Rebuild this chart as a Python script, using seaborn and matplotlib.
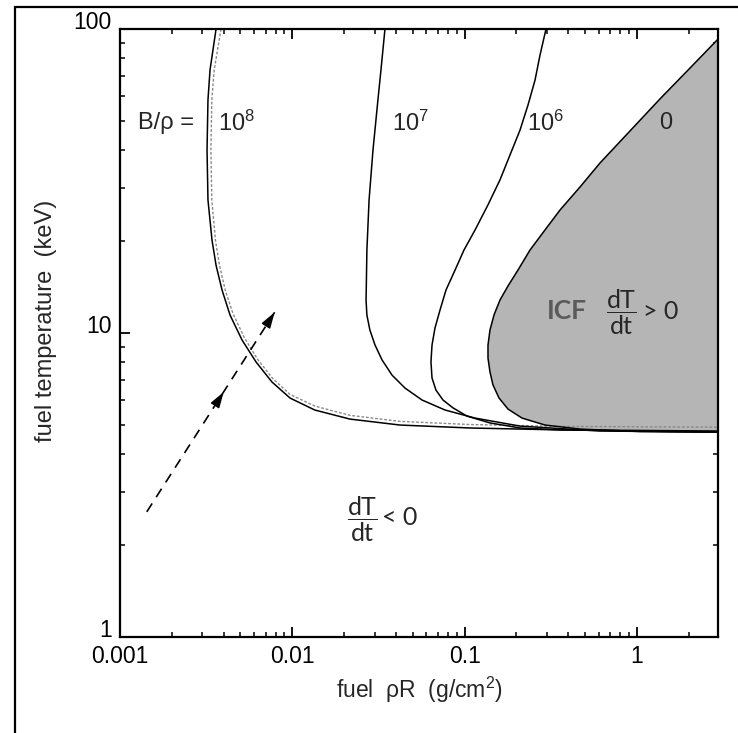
import numpy as np
import pandas as pd
import matplotlib
matplotlib.use("Agg")
import matplotlib.pyplot as plt
from matplotlib.patches import Rectangle
from matplotlib.ticker import LogLocator, NullFormatter
import seaborn as sns

# ---------------- data ----------------
# B/rho = 1e8 (solid)
b8_rhoR = [0.00361, 0.00333, 0.00324, 0.00320, 0.00324, 0.00342, 0.00361, 0.00391, 0.00435,
           0.00511, 0.00616, 0.00762, 0.00970, 0.0135, 0.0216, 0.0422, 0.1075, 0.358, 2.96]
b8_T = [100, 73.3, 58.4, 40.0, 27.4, 20.2, 16.7, 13.85, 11.46, 9.48, 8.03, 6.90, 6.11, 5.58,
        5.21, 4.98, 4.87, 4.80, 4.76]
# B/rho = 1e8 (dotted companion)
b8d_rhoR = [0.00386, 0.00352, 0.00341, 0.00337, 0.00341, 0.00358, 0.00378, 0.00408, 0.00452,
            0.00527, 0.00628, 0.00770, 0.00970, 0.0135, 0.0216, 0.0422, 0.1075, 0.358, 2.96]
b8d_T = [100, 73.3, 58.4, 40.0, 27.4, 20.2, 16.7, 13.85, 11.6, 9.65, 8.2, 7.08, 6.28, 5.75,
         5.36, 5.12, 5.0, 4.93, 4.90]
# B/rho = 1e7
b7_rhoR = [0.0345, 0.0327, 0.0314, 0.0294, 0.0279, 0.0271, 0.0268, 0.0271, 0.0282, 0.0302,
           0.0332, 0.0379, 0.0451, 0.0566, 0.0770, 0.1149, 0.2097, 0.6107, 2.96]
b7_T = [100, 73.3, 58.4, 40.0, 27.4, 18.75, 12.8, 11.46, 10.23, 9.13, 8.15, 7.27, 6.59, 6.02,
        5.58, 5.25, 4.94, 4.76, 4.72]
# B/rho = 1e6
b6_rhoR = [0.2968, 0.2740, 0.2563, 0.2333, 0.2097, 0.1834, 0.1605, 0.1367, 0.1149, 0.0992,
           0.0880, 0.0780, 0.0720, 0.0673, 0.0647, 0.0638, 0.0647, 0.0682, 0.0749, 0.0857,
           0.1032, 0.1404, 0.2097, 0.358, 2.96]
b6_T = [100, 82.1, 67.9, 56.2, 46.5, 38.5, 31.9, 26.4, 21.8, 18.75, 16.1, 13.85, 11.9, 10.38,
        9.13, 8.03, 7.11, 6.49, 6.02, 5.67, 5.33, 5.06, 4.87, 4.80, 4.72]
# B/rho = 0 (ICF ignition boundary)
b0_rhoR = [2.96, 1.042, 0.4676, 0.2929, 0.2154, 0.1786, 0.1584, 0.1461, 0.1404, 0.1367, 0.1367,
           0.1404, 0.1481, 0.1605, 0.1786, 0.2041, 0.2397, 0.2929, 0.358, 0.4676, 0.6107,
           0.9120, 1.3618, 2.0335, 2.96]
b0_T = [4.72, 4.74, 4.83, 4.98, 5.25, 5.62, 6.11, 6.75, 7.44, 8.27, 9.13, 10.23, 11.46, 12.84,
        14.28, 16.11, 18.75, 21.83, 25.39, 30.22, 36.25, 46.2, 58.9, 74.4, 92.7]

# dashed arrow (start, middle head, end)
arrow_rhoR = [0.00143, 0.0040, 0.0079]
arrow_T = [2.58, 6.4, 11.7]

x_ticks = [0.001, 0.01, 0.1, 1]
x_tick_labels = ["0.001", "0.01", "0.1", "1"]
y_ticks = [1, 10, 100]
y_tick_labels = ["1", "10", "100"]

# ---------------- figure ----------------
sns.set_theme(style="ticks")
plt.rcParams["font.family"] = ["Liberation Sans", "DejaVu Sans"]

W, H = 738, 733
fig = plt.figure(figsize=(W / 100, H / 100), dpi=100)
ax = fig.add_axes([120 / W, 1 - 637 / H, 598 / W, 608 / H])
ax.set_xscale("log")
ax.set_yscale("log")

# shaded ICF region
ax.fill(b0_rhoR, b0_T, color="#b5b5b5", lw=0, zorder=1)

lw = 1.1
sns.lineplot(x=b8d_rhoR, y=b8d_T, sort=False, estimator=None, color="#8a8a8a", lw=1.0,
             linestyle=(0, (2.0, 1.3)), ax=ax, zorder=2)
for xs, ys in [(b8_rhoR, b8_T), (b7_rhoR, b7_T), (b6_rhoR, b6_T), (b0_rhoR, b0_T)]:
    sns.lineplot(x=xs, y=ys, sort=False, estimator=None, color="black", lw=lw, ax=ax, zorder=3)

# dashed arrow with heads
sns.lineplot(x=[arrow_rhoR[0], arrow_rhoR[2]], y=[arrow_T[0], arrow_T[2]], sort=False,
             estimator=None, color="black", lw=1.2, linestyle=(0, (6, 4.5)), ax=ax, zorder=3)
lx0, ly0 = np.log10(arrow_rhoR[0]), np.log10(arrow_T[0])
lx1, ly1 = np.log10(arrow_rhoR[2]), np.log10(arrow_T[2])
for tip in (1, 2):
    tx, ty = np.log10(arrow_rhoR[tip]), np.log10(arrow_T[tip])
    bx, by = tx - 0.02 * (lx1 - lx0), ty - 0.02 * (ly1 - ly0)
    ax.annotate("", xy=(10 ** tx, 10 ** ty), xytext=(10 ** bx, 10 ** by),
                arrowprops=dict(arrowstyle="-|>,head_length=0.7,head_width=0.22",
                                color="black", lw=1.0, shrinkA=0, shrinkB=0,
                                mutation_scale=14), zorder=4)

ax.set_xlim(0.001, 2.956)
ax.set_ylim(1, 100)

ax.set_xticks(x_ticks)
ax.set_xticklabels(x_tick_labels)
ax.set_yticks(y_ticks)
ax.set_yticklabels(y_tick_labels)
ax.xaxis.set_minor_locator(LogLocator(base=10, subs=np.arange(2, 10)))
ax.yaxis.set_minor_locator(LogLocator(base=10, subs=np.arange(2, 10)))
ax.xaxis.set_minor_formatter(NullFormatter())
ax.yaxis.set_minor_formatter(NullFormatter())
ax.tick_params(which="both", direction="in", top=True, right=True, colors="black",
               labelsize=16.5)
ax.tick_params(which="major", length=7.5, width=1.3, pad=6)
ax.tick_params(which="minor", length=3.8, width=1.1)
for lab in ax.get_yticklabels():
    lab.set_verticalalignment("baseline")
for s in ax.spines.values():
    s.set_linewidth(1.6)
    s.set_color("black")

ax.set_xlabel(r"fuel  $\mathregular{\rho}$R  (g/cm$\mathregular{^2}$)", fontsize=16.5, labelpad=5)
ax.set_ylabel("fuel temperature  (keV)", fontsize=17)
ax.yaxis.set_label_coords(-0.105, 0.52)

# annotations
tfs = 17
ax.text(0.00127, 49, "B/\u03c1 =", fontsize=tfs, ha="left", va="center")
ax.text(0.00371, 49, r"$\mathregular{10^8}$", fontsize=tfs, ha="left", va="center")
ax.text(0.0379, 49, r"$\mathregular{10^7}$", fontsize=tfs, ha="left", va="center")
ax.text(0.23, 49, r"$\mathregular{10^6}$", fontsize=tfs, ha="left", va="center")
ax.text(1.46, 49, "0", fontsize=tfs, ha="center", va="center")

cal = ["Lato", "DejaVu Sans"]
ax.text(0.30, 11.8, "ICF", fontsize=19, fontweight="bold", color="#5a5a5a",
        family=cal, ha="left", va="center")
ax.text(0.81, 11.7, r"$\dfrac{\mathregular{dT}}{\mathregular{dt}}$", fontsize=18, family=cal,
        ha="center", va="center")
ax.text(1.08, 11.8, "> 0", fontsize=18, family=cal, ha="left", va="center")

ax.text(0.0254, 2.44, r"$\dfrac{\mathregular{dT}}{\mathregular{dt}}$", fontsize=18, family=cal,
        ha="center", va="center")
ax.text(0.0331, 2.48, "< 0", fontsize=18, family=cal, ha="left", va="center")

# outer frame
fig.add_artist(Rectangle((15 / W, -0.1), 1.5, 1 - 7 / H + 0.1, transform=fig.transFigure,
                         fill=False, lw=1.6, ec="black", clip_on=False))

fig.savefig("out.png", dpi=100)
